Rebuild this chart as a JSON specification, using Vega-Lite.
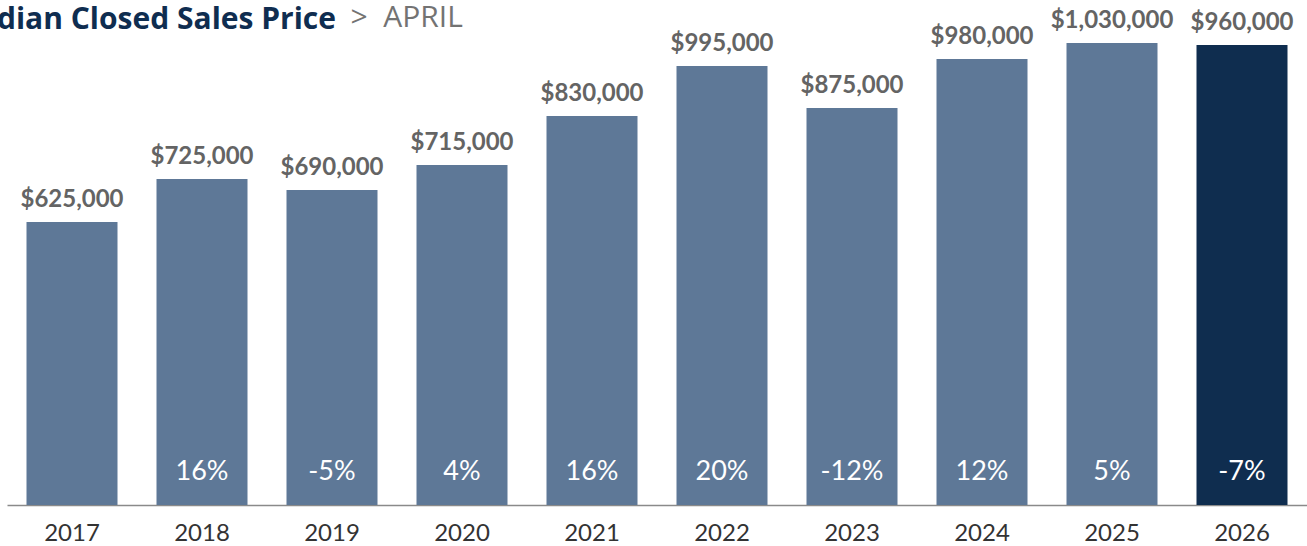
{
  "$schema": "https://vega.github.io/schema/vega-lite/v6.json",
  "width": 1300,
  "height": 475,
  "autosize": {"type": "none"},
  "padding": {"left": 7, "top": 30, "right": 0, "bottom": 41},
  "background": "white",
  "config": {"view": {"stroke": null}},
  "title": {
    "text": "Median Closed Sales Price",
    "anchor": "start",
    "align": "right",
    "dx": 329,
    "offset": -57,
    "baseline": "alphabetic",
    "font": "Open Sans",
    "fontSize": 30,
    "fontWeight": "bold",
    "color": "#0f2d50"
  },
  "data": {
    "values": [
      {"year": "2017", "bar": 625600, "label": "$625,000", "change": "", "current": "no"},
      {"year": "2018", "bar": 720600, "label": "$725,000", "change": "16%", "current": "no"},
      {"year": "2019", "bar": 696300, "label": "$690,000", "change": "-5%", "current": "no"},
      {"year": "2020", "bar": 751600, "label": "$715,000", "change": "4%", "current": "no"},
      {"year": "2021", "bar": 859900, "label": "$830,000", "change": "16%", "current": "no"},
      {"year": "2022", "bar": 970400, "label": "$995,000", "change": "20%", "current": "no"},
      {"year": "2023", "bar": 877600, "label": "$875,000", "change": "-12%", "current": "no"},
      {"year": "2024", "bar": 985900, "label": "$980,000", "change": "12%", "current": "no"},
      {"year": "2025", "bar": 1021300, "label": "$1,030,000", "change": "5%", "current": "no"},
      {"year": "2026", "bar": 1016800, "label": "$960,000", "change": "-7%", "current": "yes"}
    ]
  },
  "encoding": {
    "x": {
      "field": "year",
      "type": "ordinal",
      "scale": {"paddingInner": 0.3, "paddingOuter": 0.15},
      "axis": {
        "title": null,
        "labelAngle": 0,
        "labelFont": "Lato",
        "labelFontSize": 24,
        "labelColor": "#333333",
        "labelPadding": 16,
        "ticks": false,
        "domainColor": "#8a8a8a",
        "domainWidth": 1.5
      }
    }
  },
  "layer": [
    {
      "mark": {"type": "bar"},
      "encoding": {
        "y": {
          "field": "bar",
          "type": "quantitative",
          "scale": {"domain": [0, 1050000], "nice": false},
          "axis": {
            "title": ">\u00a0\u00a0APRIL",
            "titleAngle": 0,
            "titleAlign": "left",
            "titleBaseline": "alphabetic",
            "titleX": 343,
            "titleY": -4,
            "titleFont": "Open Sans",
            "titleFontSize": 30,
            "titleFontWeight": "normal",
            "titleColor": "#737373",
            "labels": false,
            "ticks": false,
            "domain": false,
            "grid": false
          }
        },
        "color": {
          "field": "current",
          "type": "nominal",
          "scale": {"domain": ["no", "yes"], "range": ["#5e7897", "#0f2d4f"]},
          "legend": null
        }
      }
    },
    {
      "mark": {"type": "text", "baseline": "alphabetic", "dy": -15, "font": "Lato", "fontSize": 24, "fontWeight": "bold", "color": "#646464"},
      "encoding": {
        "y": {"field": "bar", "type": "quantitative"},
        "text": {"field": "label"}
      }
    },
    {
      "mark": {"type": "text", "baseline": "alphabetic", "dy": -25, "font": "Lato", "fontSize": 27, "color": "white"},
      "encoding": {
        "y": {"datum": 0},
        "text": {"field": "change"}
      }
    }
  ]
}
